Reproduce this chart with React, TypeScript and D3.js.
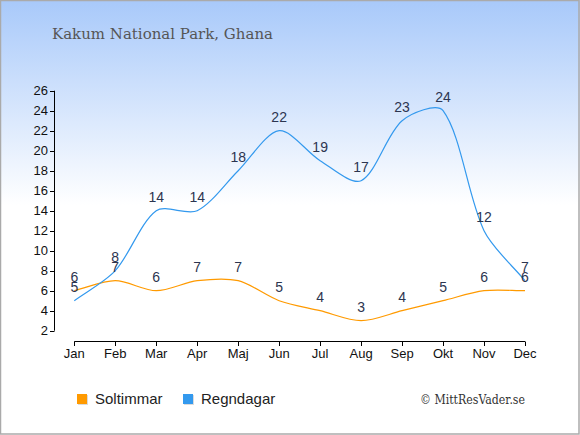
import React from "react";
import * as d3 from "d3";

const months = ["Jan", "Feb", "Mar", "Apr", "Maj", "Jun", "Jul", "Aug", "Sep", "Okt", "Nov", "Dec"];
const soltimmar = [6, 7, 6, 7, 7, 5, 4, 3, 4, 5, 6, 6];
const regndagar = [5, 8, 14, 14, 18, 22, 19, 17, 23, 24, 12, 7];
const yTicks = [2, 4, 6, 8, 10, 12, 14, 16, 18, 20, 22, 24, 26];
const title = "Kakum National Park, Ghana";
const seriesNames = ["Soltimmar", "Regndagar"];
const credit = "© MittResVader.se";

const W = 580;
const H = 435;
const ORANGE = "#ff9a00";
const BLUE = "#3399ee";
const LABEL = "#2c3550";
const TENSION = 0.3;

const x = d3.scalePoint<string>().domain(months).range([74.3, 525]);
const y = d3.scaleLinear().domain([2, 26]).range([330.7, 90.7]);

type P = [number, number];

// Distance-weighted spline (tension based) built with d3.path
function spline(pts: P[]): string {
  const ctrl = pts.map((cur, i) => {
    const prev = pts[i - 1] || cur;
    const next = pts[i + 1] || cur;
    const d01 = Math.hypot(cur[0] - prev[0], cur[1] - prev[1]);
    const d12 = Math.hypot(next[0] - cur[0], next[1] - cur[1]);
    let s01 = d01 / (d01 + d12);
    let s12 = d12 / (d01 + d12);
    if (!isFinite(s01)) s01 = 0;
    if (!isFinite(s12)) s12 = 0;
    const fa = TENSION * s01;
    const fb = TENSION * s12;
    const dx = next[0] - prev[0];
    const dy = next[1] - prev[1];
    return {
      prev: [cur[0] - fa * dx, cur[1] - fa * dy] as P,
      next: [cur[0] + fb * dx, cur[1] + fb * dy] as P,
    };
  });
  const p = d3.path();
  pts.forEach((pt, i) => {
    if (i === 0) {
      p.moveTo(pt[0], pt[1]);
    } else {
      const c1 = ctrl[i - 1].next;
      const c2 = ctrl[i].prev;
      p.bezierCurveTo(c1[0], c1[1], c2[0], c2[1], pt[0], pt[1]);
    }
  });
  return p.toString();
}

function seriesPath(vals: number[]) {
  return spline(vals.map((v, i) => [x(months[i]) as number, y(v)] as P));
}

export default function App() {
  const sans = "'Liberation Sans', Arial, sans-serif";
  const serif = "'DejaVu Serif', Georgia, serif";
  const series = [
    { name: seriesNames[0], vals: soltimmar, color: ORANGE },
    { name: seriesNames[1], vals: regndagar, color: BLUE },
  ];
  return (
    <svg
      width={W}
      height={H}
      style={{ position: "absolute", left: 0, top: 0 }}
      xmlns="http://www.w3.org/2000/svg"
    >
      <defs>
        <linearGradient id="bg" x1="0" y1="0" x2="0" y2={H} gradientUnits="userSpaceOnUse">
          <stop offset="0" stopColor="#a8c9fa" />
          <stop offset={205 / H} stopColor="#ffffff" />
          <stop offset="1" stopColor="#ffffff" />
        </linearGradient>
      </defs>
      <rect x={0} y={0} width={W} height={H} fill="url(#bg)" />
      <rect x={0.5} y={0.5} width={W - 1.5} height={H - 1.5} fill="none" stroke="#aaaaaa" strokeWidth={1.5} />

      <text
        x={52}
        y={39}
        fontFamily={serif}
        fontSize={15}
        fill="#555555"
        textLength={221}
        lengthAdjust="spacingAndGlyphs"
      >
        {title}
      </text>

      {/* Y axis */}
      <line x1={54.5} x2={54.5} y1={y(26)} y2={y(2)} stroke="#000" strokeWidth={1} />
      {yTicks.map((t) => (
        <g key={t}>
          <line x1={50} x2={54.5} y1={Math.round(y(t)) + 0.5} y2={Math.round(y(t)) + 0.5} stroke="#000" />
          <text
            x={48}
            y={y(t) + 4.5}
            textAnchor="end"
            fontFamily={sans}
            fontSize={13}
            fill="#111"
          >
            {t}
          </text>
        </g>
      ))}

      {/* X axis */}
      <line x1={x(months[0])} x2={x(months[11])} y1={341.5} y2={341.5} stroke="#000" />
      {months.map((m) => (
        <g key={m}>
          <line
            x1={Math.round(x(m) as number) + 0.5}
            x2={Math.round(x(m) as number) + 0.5}
            y1={341.5}
            y2={346}
            stroke="#000"
          />
          <text
            x={x(m)}
            y={357.5}
            textAnchor="middle"
            fontFamily={sans}
            fontSize={13}
            fill="#111"
          >
            {m}
          </text>
        </g>
      ))}

      {/* Lines */}
      {series.map((s) => (
        <path key={s.name} d={seriesPath(s.vals)} fill="none" stroke={s.color} strokeWidth={1.2} />
      ))}

      {/* Data labels */}
      {series.map((s) =>
        s.vals.map((v, i) => (
          <text
            key={s.name + i}
            x={x(months[i])}
            y={y(v) - 9}
            textAnchor="middle"
            fontFamily={sans}
            fontSize={14}
            fill={LABEL}
          >
            {v}
          </text>
        ))
      )}

      {/* Legend */}
      {series.map((s, i) => {
        const lx = i === 0 ? 77 : 183;
        return (
          <g key={s.name}>
            <rect x={lx + 1} y={395} width={10} height={10} fill="#999" opacity={0.35} />
            <rect x={lx} y={394} width={10} height={10} fill={s.color} />
            <text x={lx + 18} y={404} fontFamily={sans} fontSize={15} fill="#222">
              {s.name}
            </text>
          </g>
        );
      })}

      <text
        x={420}
        y={404}
        fontFamily={serif}
        fontSize={13}
        fill="#333"
        textLength={105}
        lengthAdjust="spacingAndGlyphs"
      >
        {credit}
      </text>
    </svg>
  );
}
